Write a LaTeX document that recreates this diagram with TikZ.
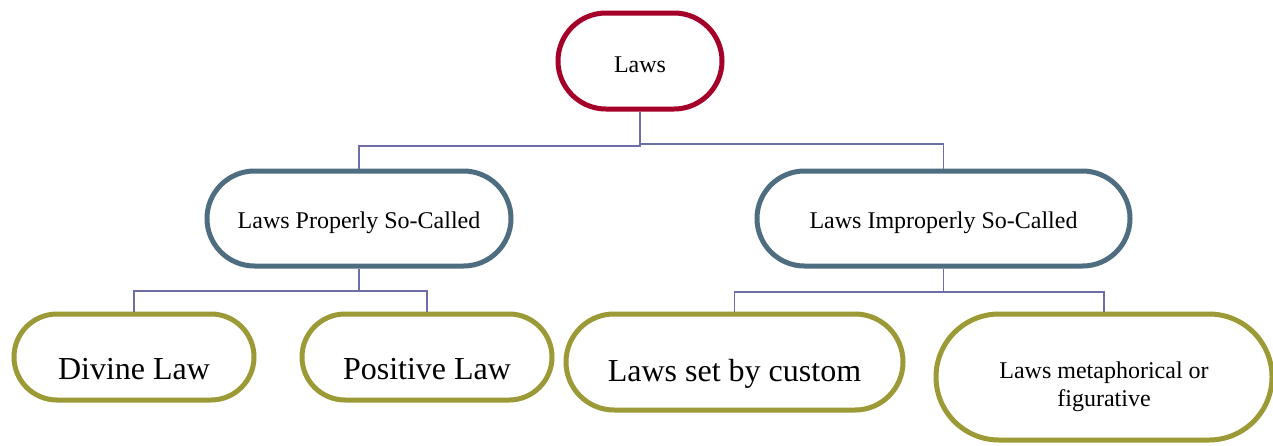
\documentclass[tikz,border=0pt]{standalone}
\usepackage{fontspec}
\setmainfont{Liberation Serif}
\definecolor{lawred}{HTML}{A5002A}
\definecolor{lawblue}{HTML}{4E6D80}
\definecolor{lawolive}{HTML}{9B9A36}
\definecolor{lawline}{HTML}{6E6EA6}
\begin{document}
\begin{tikzpicture}[x=1pt,y=-1pt,
  pill/.style={draw, line width=5pt, fill=white, rectangle, inner sep=0pt, align=center},
  lvlA/.style={pill, draw=lawred, font=\fontsize{24}{28}\selectfont},
  lvlB/.style={pill, draw=lawblue, font=\fontsize{24}{28}\selectfont},
  lvlC/.style={pill, draw=lawolive, font=\fontsize{32}{37}\selectfont},
  lvlD/.style={pill, draw=lawolive, font=\fontsize{24}{28}\selectfont},
  conn/.style={draw=lawline, line width=1.5pt}]
\useasboundingbox (0,0) rectangle (1273,445);
\fill[white] (0,0) rectangle (1273,445);
\coordinate (busL) at (0,146);
\coordinate (busR) at (0,144);
\coordinate (busP) at (0,291);
\coordinate (busI) at (0,292);

\node[lvlA, minimum width=164pt, minimum height=96pt, rounded corners=48pt, text height=22pt, text depth=0pt] (laws) at (640,61) {Laws};
\node[lvlB, minimum width=304pt, minimum height=95pt, rounded corners=47.5pt, text height=20pt, text depth=0pt] (psc) at (359,218.5) {Laws Properly So-Called};
\node[lvlB, minimum width=373pt, minimum height=95pt, rounded corners=47.5pt, text height=20pt, text depth=0pt] (isc) at (943.5,218.5) {Laws Improperly So-Called};
\node[lvlC, minimum width=240pt, minimum height=86pt, rounded corners=43pt, text height=44pt, text depth=0pt] (divine) at (134,357) {Divine Law};
\node[lvlC, minimum width=250pt, minimum height=86pt, rounded corners=43pt, text height=44pt, text depth=0pt] (positive) at (427,357) {Positive Law};
\node[lvlC, minimum width=337pt, minimum height=96pt, rounded corners=48pt, text height=38pt, text depth=0pt] (custom) at (734.5,362) {Laws set by custom};
\node[lvlD, minimum width=336pt, minimum height=126pt, rounded corners=63pt, text height=58pt, text depth=0pt] (meta) at (1104,377) {Laws metaphorical or\\figurative};

\draw[conn] (laws.south) -- (laws.south |- busL) -| (psc.north);
\draw[conn] (laws.south |- busR) -| (isc.north);
\draw[conn] (psc.south) -- (psc.south |- busP) -| (divine.north);
\draw[conn] (psc.south |- busP) -| (positive.north);
\draw[conn] (isc.south) -- (isc.south |- busI) -| (custom.north);
\draw[conn] (isc.south |- busI) -| (meta.north);
\end{tikzpicture}
\end{document}
